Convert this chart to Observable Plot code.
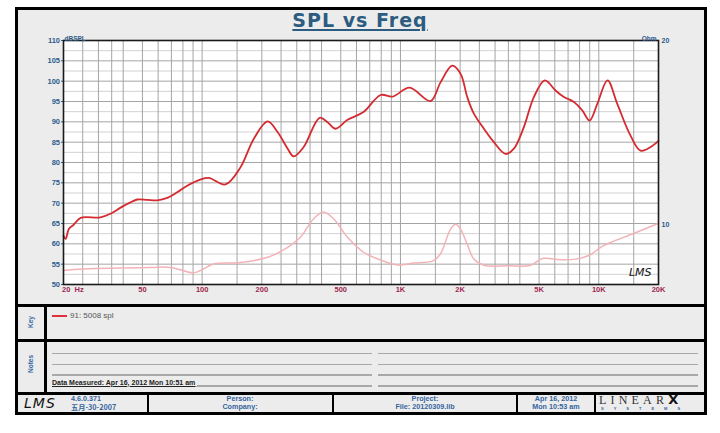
<!DOCTYPE html>
<html>
<head>
<meta charset="utf-8">
<script src="https://cdn.jsdelivr.net/npm/d3@7"></script>
<script src="https://cdn.jsdelivr.net/npm/@observablehq/plot@0.6"></script>
<style>
  body { margin: 0; background: #fff; }
  #page { position: relative; width: 720px; height: 433px; overflow: hidden; font-family: "Liberation Sans", Arial, sans-serif; }
  .abs { position: absolute; }
  #frame { left: 15px; top: 7px; width: 692px; height: 408px; box-sizing: border-box; border: 3px solid #000; background: #ececec; }
  .hbar { position: absolute; left: 15px; width: 692px; height: 3px; background: #000; }
  .vbar { position: absolute; background: #000; }
  .nline { position: absolute; height: 1.5px; background: #a8a8a8; }
  .ft { position: absolute; font-size: 7.2px; font-weight: bold; color: #3565a0; text-align: center; line-height: 8px; white-space: nowrap; }
  #title { position: absolute; left: 0; top: 9px; width: 720px; text-align: center; font-family: "DejaVu Sans", Verdana, sans-serif; font-weight: bold; font-size: 19px; letter-spacing: 1px; color: #2c5c7f; text-decoration: underline; text-decoration-thickness: 2px; text-underline-offset: 2px; }
  .side { position: absolute; font-size: 6.5px; font-weight: bold; color: #3565a0; transform: translate(-50%,-50%) rotate(-90deg); white-space: nowrap; }
  .plotwrap { position: absolute; left: 0; top: 0; }
</style>
</head>
<body>
<div id="page">
  <div id="frame" class="abs"></div>
  <div id="title">SPL vs Freq</div>
  <div class="hbar" style="top:303.5px"></div>
  <div class="hbar" style="top:338.5px"></div>
  <div class="hbar" style="top:392px"></div>
  <div class="vbar" style="left:43.5px;top:305px;width:3px;height:88px"></div>
  <div class="vbar" style="left:146.5px;top:393px;width:2px;height:20px"></div>
  <div class="vbar" style="left:332px;top:393px;width:2px;height:20px"></div>
  <div class="vbar" style="left:516px;top:393px;width:2px;height:20px"></div>
  <div class="vbar" style="left:594px;top:393px;width:2px;height:20px"></div>

  <div class="side" style="left:30px;top:322px">Key</div>
  <div class="side" style="left:30px;top:364px">Notes</div>

  <div class="abs" style="left:52px;top:314.5px;width:15px;height:2px;background:#e0303a"></div>
  <div class="abs" style="left:70px;top:310.5px;font-size:8px;color:#555">91: 5008 spl</div>

  <div class="nline" style="left:52px;top:352.5px;width:320px"></div>
  <div class="nline" style="left:52px;top:363.5px;width:320px"></div>
  <div class="nline" style="left:52px;top:374px;width:320px"></div>
  <div class="nline" style="left:52px;top:385px;width:320px"></div>
  <div class="nline" style="left:378px;top:352.5px;width:320px"></div>
  <div class="nline" style="left:378px;top:363.5px;width:320px"></div>
  <div class="nline" style="left:378px;top:374px;width:320px"></div>
  <div class="nline" style="left:378px;top:385px;width:320px"></div>
  <div class="abs" style="left:52px;top:378.5px;font-size:7px;font-weight:bold;color:#222;text-decoration:underline;background:#ececec;padding-right:2px">Data Measured: Apr 16, 2012 Mon 10:51 am</div>

  <div class="abs" style="left:24px;top:395px;font-family:'DejaVu Sans',sans-serif;font-style:italic;font-size:14px;letter-spacing:1px;color:#111;line-height:16px">LMS</div>
  <div class="ft" style="left:71px;top:395px;text-align:left">4.6.0.371</div>
  <div class="ft" style="left:71px;top:403px;text-align:left;font-family:'Noto Sans CJK SC','Liberation Sans',sans-serif">五月-30-2007</div>
  <div class="ft" style="left:148px;top:395px;width:184px">Person:<br>Company:</div>
  <div class="ft" style="left:334px;top:395px;width:182px">Project:<br>File: 20120309.lib</div>
  <div class="ft" style="left:518px;top:395px;width:76px">Apr 16, 2012<br>Mon 10:53 am</div>
  <div class="abs" style="left:599px;top:394px;font-family:'Liberation Serif',serif;font-size:12px;letter-spacing:4.2px;color:#333;line-height:11px">LINEAR<span style="font-family:'DejaVu Sans',sans-serif;font-weight:bold;font-size:13px;letter-spacing:0;color:#111">X</span></div>
  <div class="abs" style="left:601px;top:406.5px;font-size:4px;letter-spacing:10px;color:#3565a0;line-height:4px;font-weight:bold">SYSTEMS</div>

  <div id="p1" class="plotwrap"></div>
  <div id="p2" class="plotwrap"></div>
</div>
<script>
// SPL response (dB SPL)
const splFreq = [20, 20.5, 21.3, 22.5, 24.4, 30.7, 34.5, 38.8, 43.5, 47.1, 52.9, 59.4, 66.7, 74.9, 84.1, 98, 108, 131, 156, 182, 214, 240, 270, 289, 325, 391, 429, 471, 541, 651, 794, 912, 1111, 1418, 1592, 1824, 2010, 2172, 2345, 2634, 2958, 3388, 3732, 4190, 4705, 5348, 6055, 6668, 7490, 8257, 8986, 9826, 11072, 12394, 14456, 16248, 18252, 20000];
const splDb = [62, 61.2, 63.7, 64.7, 66.4, 66.5, 67.4, 68.9, 70.2, 70.9, 70.8, 70.7, 71.3, 72.7, 74.3, 75.8, 76.2, 74.6, 78.8, 85.8, 90.1, 87.5, 83.4, 81.5, 83.8, 91.0, 89.9, 88.3, 90.5, 92.4, 96.6, 96.2, 98.4, 95.1, 99.7, 103.8, 101.8, 96.1, 92.0, 88.3, 85.0, 82.1, 83.4, 88.7, 96.1, 100.2, 97.7, 96.1, 94.9, 92.8, 90.3, 94.4, 100.2, 94.4, 86.6, 82.9, 83.8, 85.3];

// Impedance (Ohm)
const impFreq = [20, 25.2, 54.9, 69.3, 90.5, 98, 114, 156, 214, 270, 313, 365, 409, 460, 541, 651, 794, 967, 1164, 1468, 1592, 1789, 1897, 2010, 2172, 2345, 2634, 3500, 4530, 5200, 6418, 7638, 9092, 10210, 11470, 14980, 20000];
const impOhm = [8.43, 8.48, 8.53, 8.53, 8.36, 8.43, 8.64, 8.69, 8.86, 9.20, 9.55, 10.24, 10.50, 10.24, 9.55, 9.03, 8.77, 8.61, 8.67, 8.75, 8.98, 9.85, 10.03, 9.85, 9.3, 8.8, 8.6, 8.58, 8.6, 8.82, 8.78, 8.8, 8.95, 9.2, 9.37, 9.69, 10.07];

// Grid and tick labels
const gridFreqs = [20, 25, 30, 35, 40, 50, 60, 70, 80, 90, 100, 150, 200, 250, 300, 350, 400, 500, 600, 700, 800, 900, 1000, 1500, 2000, 2500, 3000, 3500, 4000, 5000, 6000, 7000, 8000, 9000, 10000, 15000, 20000];
const xTickValues = [50, 100, 200, 500, 1000, 2000, 5000, 10000, 20000];
const xTickLabels = ["50", "100", "200", "500", "1K", "2K", "5K", "10K", "20K"];
const dbTicks = [50, 55, 60, 65, 70, 75, 80, 85, 90, 95, 100, 105, 110];
const dbMinor = [52.5, 57.5, 62.5, 67.5, 72.5, 77.5, 82.5, 87.5, 92.5, 97.5, 102.5, 107.5];
const ohmTicks = [8, 9, 10, 20];

const spl = splFreq.map((f, i) => ({f, v: splDb[i]}));
const imp = impFreq.map((f, i) => ({f, z: impOhm[i]}));

const blue = "#2e5b8a", maroon = "#a0274f";
const common = {
  width: 720, height: 300,
  marginTop: 40, marginRight: 62, marginBottom: 16, marginLeft: 63,
  style: {background: "transparent", fontFamily: "'Liberation Sans', Arial, sans-serif", fontSize: "7px", overflow: "visible"}
};

const p1 = Plot.plot({
  ...common,
  x: {type: "log", domain: [20, 20000], label: null, axis: null},
  y: {domain: [50, 110], label: null},
  marks: [
    Plot.frame({fill: "white", stroke: null}),
    Plot.ruleY(dbMinor, {stroke: "#d2d2d2", strokeWidth: 1}),
    Plot.ruleY(dbTicks, {stroke: "#a4a4a4", strokeWidth: 1}),
    Plot.ruleX(gridFreqs, {stroke: "#a4a4a4", strokeWidth: 1}),
    Plot.line(spl, {x: "f", y: "v", stroke: "#d42a30", strokeWidth: 1.8, curve: "catmull-rom"}),
    Plot.axisY(dbTicks, {anchor: "left", tickSize: 2, tickPadding: 1.5, color: blue, fontWeight: "bold", fontSize: 7.5, label: null}),
    Plot.text(xTickValues, {x: d => d, frameAnchor: "bottom", text: (d, i) => xTickLabels[i], dy: 7.3, fill: maroon, fontWeight: "bold", fontSize: 7.5}),
    Plot.text([20], {x: d => d, frameAnchor: "bottom", text: () => "20\u00a0\u00a0Hz", textAnchor: "start", dx: -1.5, dy: 7.3, fill: maroon, fontWeight: "bold", fontSize: 7.5})
  ]
});

const p2 = Plot.plot({
  ...common,
  x: {type: "log", domain: [20, 20000], label: null, axis: null},
  y: {type: "log", domain: [8, 20], label: null},
  marks: [
    Plot.line(imp, {x: "f", y: "z", stroke: "#f2b3b8", strokeWidth: 1.5, curve: "catmull-rom"}),
    Plot.axisY(ohmTicks, {anchor: "right", tickSize: 0, tickPadding: 3, tickFormat: d => String(d), color: blue, fontWeight: "bold", fontSize: 7, label: null}),
    Plot.frame({stroke: "#1a1a1a", strokeWidth: 1.6}),
    Plot.text(["dBSPL"], {text: d => d, frameAnchor: "top-left", textAnchor: "start", dx: 1, dy: -4.5, fill: blue, fontWeight: "bold", fontSize: 6.5}),
    Plot.text(["Ohm"], {text: d => d, frameAnchor: "top-right", textAnchor: "end", dx: -2, dy: -4.5, fill: blue, fontWeight: "bold", fontSize: 6.5}),
    Plot.text(["LMS"], {text: d => d, frameAnchor: "bottom-right", textAnchor: "end", dx: -7, dy: -9, fill: "#111", fontStyle: "italic", fontSize: 11, fontFamily: "DejaVu Sans"})
  ]
});

document.getElementById("p1").appendChild(p1);
document.getElementById("p2").appendChild(p2);
</script>
</body>
</html>
